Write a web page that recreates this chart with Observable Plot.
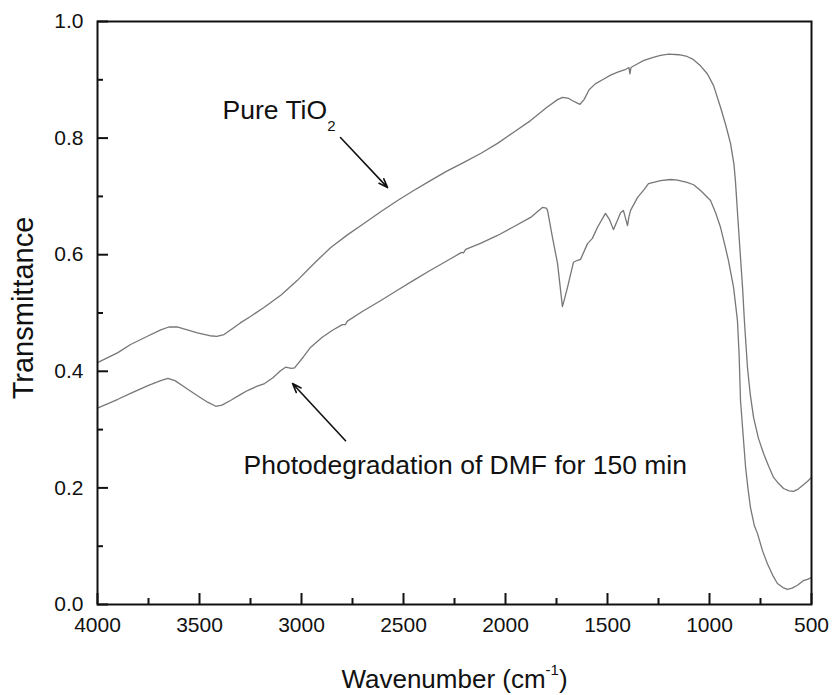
<!DOCTYPE html>
<html>
<head>
<meta charset="utf-8">
<script src="https://cdn.jsdelivr.net/npm/d3@7"></script>
<script src="https://cdn.jsdelivr.net/npm/@observablehq/plot@0.6"></script>
<style>
  html, body { margin: 0; padding: 0; background: #fff; }
  #chart { width: 833px; height: 695px; }
</style>
</head>
<body>
<div id="chart"></div>
<script>
// Wavenumber (cm-1) and transmittance, Pure TiO2
const pureWn = [4000,3900,3838,3750,3690,3650,3610,3560,3510,3450,3415,3380,3348,3300,3250,3186,3100,3020,2941,2858,2775,2696,2610,2529,2450,2368,2290,2206,2120,2039,1960,1877,1800,1745,1720,1690,1660,1635,1615,1590,1560,1520,1485,1450,1410,1395,1390,1385,1350,1324,1280,1240,1200,1150,1110,1080,1044,1010,980,946,920,897,880,873,858,848,838,829,822,814,800,784,760,735,710,686,660,637,610,588,565,544,520,500];
const pureT  = [0.415,0.432,0.446,0.461,0.471,0.476,0.476,0.471,0.466,0.461,0.460,0.463,0.471,0.483,0.494,0.509,0.531,0.556,0.584,0.612,0.634,0.653,0.674,0.693,0.710,0.727,0.743,0.758,0.774,0.791,0.810,0.830,0.852,0.866,0.870,0.868,0.862,0.858,0.866,0.883,0.893,0.901,0.908,0.913,0.918,0.921,0.910,0.921,0.928,0.933,0.938,0.942,0.944,0.943,0.940,0.935,0.924,0.910,0.890,0.853,0.822,0.791,0.755,0.727,0.647,0.595,0.544,0.487,0.450,0.407,0.360,0.321,0.285,0.259,0.237,0.218,0.207,0.199,0.195,0.194,0.198,0.204,0.211,0.218];

// Photodegradation of DMF for 150 min
const dmfWn = [4000,3900,3838,3750,3690,3655,3620,3574,3510,3460,3420,3390,3348,3300,3265,3220,3181,3140,3103,3078,3050,3034,2990,2956,2900,2850,2800,2785,2775,2700,2613,2530,2451,2370,2284,2215,2206,2195,2120,2039,1960,1877,1819,1800,1794,1770,1745,1721,1710,1696,1667,1650,1632,1598,1574,1549,1510,1490,1471,1450,1436,1422,1402,1395,1387,1353,1320,1299,1240,1191,1157,1110,1078,1044,1029,995,970,946,925,907,882,863,855,848,835,823,810,799,780,765,740,716,690,667,640,618,595,569,539,520,500];
const dmfT  = [0.337,0.352,0.362,0.376,0.384,0.388,0.384,0.373,0.358,0.347,0.340,0.342,0.350,0.360,0.367,0.374,0.379,0.389,0.401,0.407,0.405,0.406,0.425,0.441,0.458,0.470,0.480,0.480,0.486,0.503,0.521,0.539,0.556,0.573,0.590,0.604,0.603,0.609,0.620,0.633,0.648,0.664,0.681,0.680,0.676,0.630,0.585,0.511,0.525,0.544,0.587,0.590,0.592,0.619,0.628,0.647,0.671,0.660,0.643,0.660,0.672,0.676,0.650,0.665,0.676,0.698,0.712,0.722,0.727,0.729,0.728,0.724,0.720,0.710,0.705,0.693,0.672,0.647,0.617,0.590,0.544,0.487,0.430,0.350,0.290,0.235,0.195,0.166,0.135,0.122,0.092,0.070,0.050,0.036,0.029,0.026,0.028,0.033,0.041,0.043,0.046];

// Tick values
const xMajor = [4000,3500,3000,2500,2000,1500,1000,500];
const xMinor = [3750,3250,2750,2250,1750,1250,750];
const yMajor = [0,0.2,0.4,0.6,0.8,1.0];
const yMinor = [0.1,0.3,0.5,0.7,0.9];

// Annotations (data units)
const labelText = ["Pure TiO2", "Photodegradation of DMF for 150 min"];
const labelWn   = [3387, 3284];
const labelT    = [0.847, 0.238];
const arrowFromWn = [2809, 2784];
const arrowFromT  = [0.801, 0.281];
const arrowToWn   = [2578, 3044];
const arrowToT    = [0.715, 0.379];

const pure = pureWn.map((w, i) => ({wn: w, t: pureT[i]}));
const dmf = dmfWn.map((w, i) => ({wn: w, t: dmfT[i]}));
const labels = labelText.map((s, i) => ({text: s, wn: labelWn[i], t: labelT[i]}));
const arrows = arrowFromWn.map((w, i) => ({x1: w, y1: arrowFromT[i], x2: arrowToWn[i], y2: arrowToT[i]}));

const FONT = "'Liberation Sans', Arial, Helvetica, sans-serif";

const svg = Plot.plot({
  width: 833,
  height: 695,
  marginLeft: 97,
  marginRight: 22,
  marginTop: 21,
  marginBottom: 91,
  style: {fontFamily: FONT, fontSize: "21px", background: "#fff", color: "#000"},
  x: {domain: [4000, 500], axis: null},
  y: {domain: [0, 1], axis: null},
  marks: [
    Plot.line(pure, {x: "wn", y: "t", stroke: "#777", strokeWidth: 1.3}),
    Plot.line(dmf, {x: "wn", y: "t", stroke: "#777", strokeWidth: 1.3}),
    Plot.arrow(arrows, {x1: "x1", y1: "y1", x2: "x2", y2: "y2", stroke: "#111", strokeWidth: 1.6, headLength: 9, headAngle: 40}),
    Plot.text(labels, {x: "wn", y: "t", text: "text", textAnchor: "start", fontSize: 26.5, fill: "#111"}),
    Plot.frame({stroke: "#111", strokeWidth: 2}),
    Plot.axisX(xMajor, {anchor: "bottom", tickSize: -11, strokeWidth: 2, stroke: "#111", fill: "none", label: null}),
    Plot.axisX(xMinor, {anchor: "bottom", tickSize: -6, strokeWidth: 2, stroke: "#111", fill: "none", label: null}),
    Plot.axisX(xMajor, {anchor: "bottom", tickSize: 0, tickPadding: 13, fontSize: 21, fill: "#111", label: null, tickFormat: d => String(d)}),
    Plot.axisY(yMajor, {anchor: "left", tickSize: -11, strokeWidth: 2, stroke: "#111", fill: "none", label: null}),
    Plot.axisY(yMinor, {anchor: "left", tickSize: -6, strokeWidth: 2, stroke: "#111", fill: "none", label: null}),
    Plot.axisY(yMajor, {anchor: "left", tickSize: 0, tickPadding: 14, fontSize: 21, fill: "#111", label: null, tickFormat: d3.format(".1f")}),
    Plot.text(["Transmittance"], {frameAnchor: "left", textAnchor: "middle", lineAnchor: "middle", dx: -74, dy: -5, rotate: -90, fontSize: 29, fill: "#111"}),
    Plot.text(["Wavenumber (cm-1)"], {frameAnchor: "bottom", textAnchor: "middle", lineAnchor: "bottom", dy: 83, fontSize: 26, fill: "#111"})
  ]
});

// rich text: subscript / superscript
d3.select(svg).selectAll("text").each(function () {
  const el = d3.select(this);
  const s = this.textContent;
  if (s === "Pure TiO2") {
    el.text(null);
    el.append("tspan").text("Pure TiO");
    el.append("tspan").attr("dy", 12).attr("font-size", 15).text("2");
  } else if (s === "Wavenumber (cm-1)") {
    el.text(null);
    el.append("tspan").text("Wavenumber (cm");
    el.append("tspan").attr("dy", -13).attr("font-size", 15).text("-1");
    el.append("tspan").attr("dy", 13).text(")");
  }
});

document.getElementById("chart").appendChild(svg);
</script>
</body>
</html>
